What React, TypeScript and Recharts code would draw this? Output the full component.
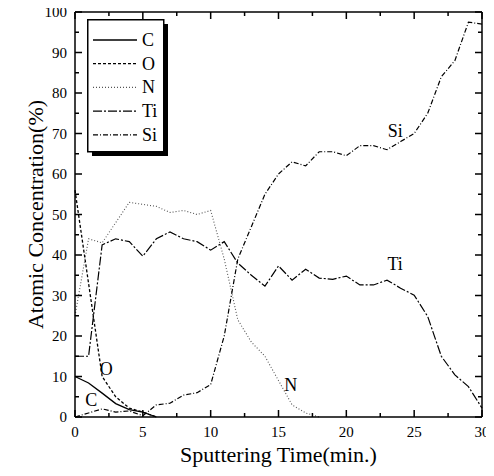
import { Legend, Line, LineChart, ReferenceDot, XAxis, YAxis } from 'recharts'

const time = [
    0, 1, 2, 3, 4, 5, 6, 7, 8, 9, 10, 11, 12, 13, 14, 15, 16, 17, 18, 19, 20,
    21, 22, 23, 24, 25, 26, 27, 28, 29, 30,
]
const carbon = [10, 8.4, 5.9, 3.3, 1.8, 1.2, 0]
const oxygen = [56, 33, 10, 5, 2.2, 1.2, 0]
const nitrogen = [25, 44, 43, 48, 53, 52.5, 52, 50.5, 51, 50, 51, 39, 24, 18.5, 15, 9, 3, 1, 0]
const titanium = [
    15, 15, 42.5, 44, 43.3, 39.7, 44, 45.7, 44, 43.3, 41.2, 43.3, 38, 35, 32.3, 37.3,
    33.8, 36.5, 34.3, 34, 34.8, 32.6, 32.6, 33.8, 31.8, 30.1, 24.8, 15, 10.4, 7.5, 2.2,
]
const silicon = [
    0, 1, 2, 1.2, 1.5, 0.3, 3, 3.4, 5.4, 6, 8, 20, 39, 47, 55, 60, 63, 62, 65.5, 65.5,
    64.5, 67, 67, 66, 68, 70, 75, 84, 88, 97.5, 97,
]

const xTicks = [0, 2.5, 5, 7.5, 10, 12.5, 15, 17.5, 20, 22.5, 25, 27.5, 30]
const yTicks = [0, 5, 10, 15, 20, 25, 30, 35, 40, 45, 50, 55, 60, 65, 70, 75, 80, 85, 90, 95, 100]

const annotations = [
    { text: 'Si', x: 23.6, y: 70.6 },
    { text: 'Ti', x: 23.6, y: 37.9 },
    { text: 'N', x: 15.9, y: 7.9 },
    { text: 'O', x: 2.3, y: 12 },
    { text: 'C', x: 1.2, y: 4.4 },
]

const FONT = '"Liberation Serif", "Times New Roman", serif'

const series = [
    { key: 'C', values: carbon, dash: undefined, color: '#000', width: 1.3 },
    { key: 'O', values: oxygen, dash: '3 2', color: '#000', width: 1.3 },
    { key: 'N', values: nitrogen, dash: '1 2', color: '#555', width: 1.1 },
    { key: 'Ti', values: titanium, dash: '9 2 2 2', color: '#000', width: 1.2 },
    { key: 'Si', values: silicon, dash: '5 2 1 2', color: '#000', width: 1.2 },
]

const rows = time.map((t, i) => {
    const row: Record<string, number | null> = { t }
    series.forEach((s) => {
        row[s.key] = i < s.values.length ? s.values[i] : null
    })
    return row
})

// ticks point into the plot, like the original frame
function BottomTick(props: any) {
    const x = Number(props.x)
    const y = Number(props.y)
    const len = props.payload.value % 5 === 0 ? 7 : 4
    return (
        <g>
            <rect x={x - 0.75} y={y - len} width={1.5} height={len} fill="#000" />
            {len === 7 && (
                <text x={x} y={y + 20} textAnchor="middle" fontSize={15} fontFamily={FONT} fill="#000">
                    {props.payload.value}
                </text>
            )}
        </g>
    )
}

function TopTick(props: any) {
    const x = Number(props.x)
    const y = Number(props.y)
    const len = props.payload.value % 5 === 0 ? 7 : 4
    return <rect x={x - 0.75} y={y} width={1.5} height={len} fill="#000" />
}

function LeftTick(props: any) {
    const x = Number(props.x)
    const y = Number(props.y)
    const len = props.payload.value % 10 === 0 ? 7 : 4
    return (
        <g>
            <rect x={x} y={y - 0.75} width={len} height={1.5} fill="#000" />
            {len === 7 && (
                <text x={x - 8} y={y + 5} textAnchor="end" fontSize={15} fontFamily={FONT} fill="#000">
                    {props.payload.value}
                </text>
            )}
        </g>
    )
}

function RightTick(props: any) {
    const x = Number(props.x)
    const y = Number(props.y)
    const len = props.payload.value % 10 === 0 ? 7 : 4
    return <rect x={x - len} y={y - 0.75} width={len} height={1.5} fill="#000" />
}

function XTitle({ viewBox }: any) {
    const cx = viewBox.x + viewBox.width / 2
    return (
        <text x={cx} y={462} textAnchor="middle" fontSize={22} fontFamily={FONT} fill="#000">
            Sputtering Time(min.)
        </text>
    )
}

function YTitle({ viewBox }: any) {
    const cx = 35
    const cy = viewBox.y + viewBox.height / 2
    return (
        <text
            x={cx}
            y={cy}
            transform={`rotate(-90 ${cx} ${cy})`}
            textAnchor="middle"
            dominantBaseline="central"
            fontSize={22}
            fontFamily={FONT}
            fill="#000"
        >
            Atomic Concentration(%)
        </text>
    )
}

function LegendBox() {
    return (
        <svg width={84} height={140} style={{ display: 'block' }}>
            <rect x={5} y={5} width={76} height={132} fill="#000" />
            <rect x={0.75} y={0.75} width={76} height={132} fill="#fff" stroke="#000" strokeWidth={1.5} />
            {series.map((s, i) => {
                const y = 21 + i * 23.7
                return (
                    <g key={s.key}>
                        <line x1={6} x2={50} y1={y} y2={y} stroke={s.color} strokeWidth={s.width} strokeDasharray={s.dash} />
                        <text x={55} y={y + 6} fontSize={18} fontFamily={FONT} fill="#000">
                            {s.key}
                        </text>
                    </g>
                )
            })}
        </svg>
    )
}

export default function App() {
    return (
        <div style={{ margin: '-8px 0 0 -8px' }}>
            <LineChart width={494} height={476} data={rows} margin={{ top: 11, right: 11, bottom: 0, left: 0 }}>
                <XAxis
                    xAxisId="b"
                    dataKey="t"
                    type="number"
                    domain={[0, 30]}
                    ticks={xTicks}
                    interval={0}
                    height={59}
                    tickSize={0}
                    tickMargin={0}
                    tickLine={false}
                    tick={<BottomTick />}
                    axisLine={{ stroke: '#000', strokeWidth: 1.5 }}
                    label={<XTitle />}
                />
                <XAxis
                    xAxisId="top"
                    orientation="top"
                    dataKey="t"
                    type="number"
                    domain={[0, 30]}
                    ticks={xTicks}
                    interval={0}
                    height={1}
                    tickSize={0}
                    tickMargin={0}
                    tickLine={false}
                    tick={<TopTick />}
                    axisLine={{ stroke: '#000', strokeWidth: 1.5 }}
                />
                <YAxis
                    yAxisId="l"
                    type="number"
                    domain={[0, 100]}
                    ticks={yTicks}
                    interval={0}
                    width={75}
                    tickSize={0}
                    tickMargin={0}
                    tickLine={false}
                    tick={<LeftTick />}
                    axisLine={{ stroke: '#000', strokeWidth: 1.5 }}
                    label={<YTitle />}
                />
                <YAxis
                    yAxisId="r"
                    orientation="right"
                    type="number"
                    domain={[0, 100]}
                    ticks={yTicks}
                    interval={0}
                    width={1}
                    tickSize={0}
                    tickMargin={0}
                    tickLine={false}
                    tick={<RightTick />}
                    axisLine={{ stroke: '#000', strokeWidth: 1.5 }}
                />
                <Legend
                    layout="horizontal"
                    verticalAlign="middle"
                    align="center"
                    content={<LegendBox />}
                    wrapperStyle={{ position: 'absolute', left: 87, top: 19, width: 84, height: 140 }}
                />
                {series.map((s) => (
                    <Line
                        key={s.key}
                        xAxisId="b"
                        yAxisId="l"
                        dataKey={s.key}
                        type="linear"
                        stroke={s.color}
                        strokeWidth={s.width}
                        strokeDasharray={s.dash}
                        dot={false}
                        activeDot={false}
                        isAnimationActive={false}
                    />
                ))}
                <Line
                    xAxisId="top"
                    yAxisId="r"
                    dataKey="Si"
                    stroke="none"
                    dot={false}
                    activeDot={false}
                    legendType="none"
                    isAnimationActive={false}
                />
                {annotations.map((a) => (
                    <ReferenceDot
                        key={a.text}
                        xAxisId="b"
                        yAxisId="l"
                        x={a.x}
                        y={a.y}
                        r={0}
                        stroke="none"
                        fill="none"
                        label={{ value: a.text, position: 'center', fontSize: 18, fontFamily: FONT, fill: '#000' }}
                    />
                ))}
            </LineChart>
        </div>
    )
}
